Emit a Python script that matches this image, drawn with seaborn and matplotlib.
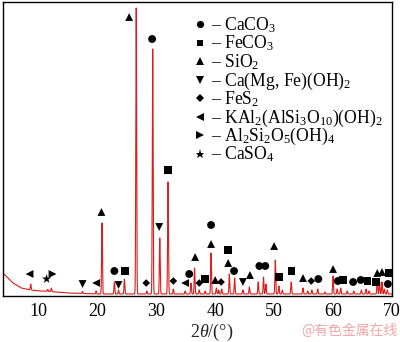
import numpy as np
import pandas as pd
import matplotlib
matplotlib.use("Agg")
import matplotlib.pyplot as plt
import seaborn as sns

# ---------------- data ----------------
# background level (arbitrary units) at a few 2theta values
bg_2theta = [4.0, 5.0, 5.7, 7.1, 8.6, 10.3, 12.0, 15.0, 20.0, 30.0, 70.0]
bg_level = [23, 17, 13, 8, 6, 5, 4.5, 3, 2, 2, 2]

# diffraction peaks: position (2theta) and height above background
peak_pos = [8.7, 11.6, 12.2, 17.5, 19.8, 20.8, 22.9, 23.6, 24.6, 26.6,
            28.4, 29.4, 30.6, 32.0, 32.9, 34.9, 35.9, 36.5, 37.3, 38.3,
            39.3, 40.2, 40.6, 41.1, 42.4, 43.3, 44.7, 45.8, 47.3, 48.2,
            48.6, 50.2, 50.8, 51.4, 52.9, 54.9, 55.7, 56.4, 57.4, 58.6,
            60.0, 60.7, 61.3, 62.4, 63.5, 64.8, 65.6, 66.1, 67.5, 67.9,
            68.3, 68.7, 69.2]
peak_int = [6, 2, 3.5, 2, 3, 71, 12, 4, 15, 286,
            3, 245, 56, 112, 5, 3, 11, 26, 4, 3,
            41, 6, 4, 5, 20, 16, 4, 7, 12, 17,
            10, 34, 8, 4, 12, 6, 3, 4, 5, 2,
            18, 5, 6, 3, 3, 4, 5, 3, 14, 12,
            12, 5, 4]

# phase markers: (2theta, level) for each phase
phases = ["CaCO3", "FeCO3", "SiO2", "Ca(Mg, Fe)(OH)2", "FeS2",
          "KAl2(AlSi3O10)(OH)2", "Al2Si2O5(OH)4", "CaSO4"]
phase_labels = [r"– CaCO$_3$", r"– FeCO$_3$", r"– SiO$_2$",
                r"– Ca(Mg, Fe)(OH)$_2$", r"– FeS$_2$",
                r"– KAl$_2$(AlSi$_3$O$_{10}$)(OH)$_2$",
                r"– Al$_2$Si$_2$O$_5$(OH)$_4$", r"– CaSO$_4$"]
caco3_x = [22.9, 29.3, 35.6, 39.3, 43.2, 47.5, 48.5, 57.5, 60.8, 63.4, 64.7, 69.3]
caco3_y = [25, 257, 22, 71, 25, 30, 30, 17, 15, 14, 16, 12]
feco3_x = [24.7, 32.0, 38.3, 42.2, 50.8, 53.0, 61.7, 65.8, 67.3, 69.5]
feco3_y = [25, 126, 17, 46, 19, 25, 16, 15, 14, 23]
sio2_x = [20.7, 25.4, 36.6, 39.3, 40.0, 42.2, 45.9, 50.0, 54.9, 60.0, 67.5, 68.3]
sio2_y = [84, 279, 39, 52, 16, 33, 21, 50, 18, 27, 23, 24]
camg_x = [17.5, 23.6, 30.5, 44.7]
camg_y = [12, 11, 69, 14]
fes2_x = [28.3, 32.9, 37.3, 41.0, 56.3]
fes2_y = [13, 15, 13, 14, 15]
illite_x = [8.5, 19.8, 34.9]
illite_y = [22, 13, 13]
kaol_x = [12.4]
kaol_y = [22]
caso4_x = [11.4]
caso4_y = [17]

# ---------------- build tables ----------------
tt = np.arange(4.0, 70.0001, 0.01)
inten = np.interp(tt, bg_2theta, bg_level)
sig = 0.07
for p, h in zip(peak_pos, peak_int):
    inten = inten + h * np.exp(-0.5 * ((tt - p) / sig) ** 2)
curve = pd.DataFrame({"2theta": tt, "I": inten})

mk_x = [caco3_x, feco3_x, sio2_x, camg_x, fes2_x, illite_x, kaol_x, caso4_x]
mk_y = [caco3_y, feco3_y, sio2_y, camg_y, fes2_y, illite_y, kaol_y, caso4_y]
rows = []
for ph, xs, ys in zip(phases, mk_x, mk_y):
    for a, b in zip(xs, ys):
        rows.append((ph, a, b))
marks = pd.DataFrame(rows, columns=["phase", "2theta", "I"])
marker_map = {"CaCO3": "o", "FeCO3": "s", "SiO2": "^", "Ca(Mg, Fe)(OH)2": "v",
              "FeS2": "D", "KAl2(AlSi3O10)(OH)2": "<", "Al2Si2O5(OH)4": ">",
              "CaSO4": "*"}
size_map = {"CaCO3": 32, "FeCO3": 28, "SiO2": 32, "Ca(Mg, Fe)(OH)2": 32,
            "FeS2": 15, "KAl2(AlSi3O10)(OH)2": 32, "Al2Si2O5(OH)4": 32,
            "CaSO4": 48}
leg_size = {"CaCO3": 5.2, "FeCO3": 4.8, "SiO2": 5.2, "Ca(Mg, Fe)(OH)2": 5.2,
            "FeS2": 3.8, "KAl2(AlSi3O10)(OH)2": 5.2, "Al2Si2O5(OH)4": 5.2,
            "CaSO4": 6.5}

# ---------------- plot ----------------
sns.set_style("white")
plt.rcParams["font.family"] = ["Liberation Serif", "DejaVu Serif"]
plt.rcParams["mathtext.fontset"] = "custom"
plt.rcParams["mathtext.rm"] = "Liberation Serif"
plt.rcParams["mathtext.it"] = "Liberation Serif:italic"
plt.rcParams["mathtext.bf"] = "Liberation Serif:bold"

W, H = 400, 342
fig = plt.figure(figsize=(W / 100, H / 100), dpi=100)
ax = fig.add_axes([3 / W, 1 - 296 / H, 389 / W, 294 / H])

sns.lineplot(data=curve, x="2theta", y="I", ax=ax, color="#dd1c1c",
             lw=0.8, sort=False, estimator=None)
for ph in phases:
    sub = marks[marks["phase"] == ph]
    sns.scatterplot(data=sub, x="2theta", y="I", ax=ax, color="black",
                    marker=marker_map[ph], s=size_map[ph], edgecolor="none",
                    legend=False, zorder=3)

ax.set_xlim(4, 70)
ax.set_ylim(0, 294)
ax.set_xticks([10, 20, 30, 40, 50, 60, 70])
ax.set_yticks([])
ax.tick_params(axis="x", length=0, pad=5, labelsize=13, colors="black")
ax.set_ylabel("")
ax.set_xlabel(r"2$\theta$/(°)", fontsize=13)
ax.xaxis.set_label_coords(0.537, -0.088)
for s in ax.spines.values():
    s.set_visible(True)
    s.set_color("black")
    s.set_linewidth(1.0)

# legend drawn row by row (marker, dash and formula)
for i, (ph, lab) in enumerate(zip(phases, phase_labels)):
    yc = 24 + 18.5 * i
    fig.lines.append(plt.Line2D([200 / W], [1 - yc / H], transform=fig.transFigure,
                                ls="none", marker=marker_map[ph], color="black",
                                markersize=leg_size[ph], markeredgewidth=0))
    fig.text(211 / W, 1 - (yc + 6) / H, lab, fontsize=12.7, ha="left",
             va="baseline", color="black")

fig.text(398 / W, 1 - 338 / H, "@有色金属在线", color="#f2a7a7",
         fontsize=10, ha="right", va="bottom",
         family=["Noto Sans CJK SC", "DejaVu Sans"])

fig.savefig("out.png", dpi=100)
